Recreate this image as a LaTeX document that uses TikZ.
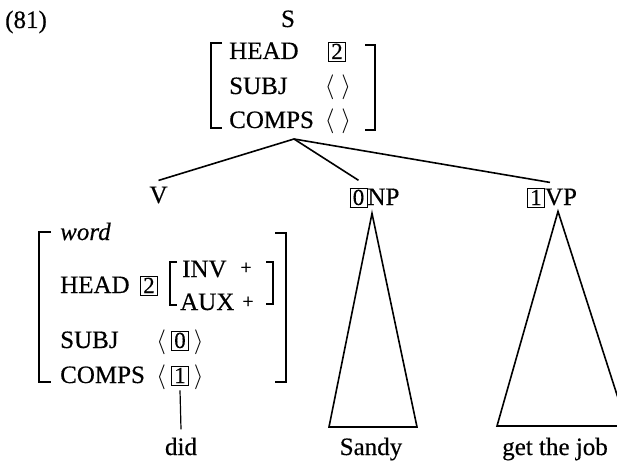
\documentclass[tikz,border=0pt]{standalone}
\usepackage{fontspec}
\setmainfont{Liberation Serif}[UprightFeatures={FakeBold=0.4},ItalicFeatures={FakeBold=0.4}]
% boxed index tag
\newcommand{\tg}[1]{{\setlength{\fboxsep}{1.4pt}\setlength{\fboxrule}{0.8pt}\fbox{\fontsize{23}{23}\selectfont\rule[-1pt]{0pt}{16pt}\makebox[13.5pt]{#1}}}}
% angle-bracketed list
\newcommand{\lst}[1]{$\langle$\hspace{5pt}#1\hspace{5pt}$\rangle$}
\begin{document}
\begin{tikzpicture}[x=1pt,y=-1pt,
  font=\fontsize{25}{29}\selectfont,
  lbl/.style={anchor=base west, inner sep=0pt},
  val/.style={anchor=base, inner sep=0pt},
  pls/.style={anchor=base, inner sep=0pt, font=\fontsize{20}{20}\selectfont},
  brk/.style={line width=1.7pt},
  edge/.style={line width=1.6pt},
  cat/.style={anchor=base, inner sep=2pt}]
\clip (0,0) rectangle (617,462);

% example number and root
\node[lbl] (num) at (5,28) {(81)};
\node[val] (S) at (288,27) {S};

% feature structure of the root
\node[lbl] (sHead) at (229,59) {HEAD};
\node[lbl] (sSubj) at (229,94) {SUBJ};
\node[lbl] (sComps) at (229,128) {COMPS};
\node[val] (sTag) at (337,59) {\tg{2}};
\node[val] (sSubjV) at (338,94) {$\langle\;\rangle$};
\node[val] (sCompsV) at (338,128) {$\langle\;\rangle$};
\draw[brk] (222,43) -- (211,43) -- (211,128) -- (222,128);
\draw[brk] (365,45) -- (375,45) -- (375,130) -- (365,130);

% daughters
\coordinate (br) at (294,139);
\node[cat] (V) at (158.5,203) {V};
\node[cat] (NP) at (374.5,205) {\tg{0}NP};
\node[cat] (VP) at (552,205) {\tg{1}VP};
\draw[edge] (br) -- ([yshift=4pt]V.north);
\draw[edge] (br) -- ([xshift=-16pt,yshift=5pt]NP.north);
\draw[edge] (br) -- ([xshift=-2pt,yshift=3pt]VP.north);

% feature structure of the verb
\node[lbl, font=\fontsize{25}{29}\selectfont\itshape] (vWord) at (60,240) {word};
\node[lbl] (vHead) at (60,293) {HEAD};
\node[val] (vTag) at (149,293) {\tg{2}};
\node[lbl] (vInv) at (182,277) {INV};
\node[lbl] (vAux) at (180,310) {AUX};
\node[pls] (vInvV) at (246,274) {+};
\node[pls] (vAuxV) at (248,308) {+};
\draw[brk] (177,262) -- (170,262) -- (170,305) -- (177,305);
\draw[brk] (266,262) -- (273,262) -- (273,304) -- (266,304);
\node[lbl] (vSubj) at (60,348) {SUBJ};
\node[lbl] (vComps) at (60,383) {COMPS};
\node[val] (vSubjV) at (180,348) {\lst{\tg{0}}};
\node[val] (vCompsV) at (180,383) {\lst{\tg{1}}};
\draw[brk] (51,232) -- (39,232) -- (39,382) -- (51,382);
\draw[brk] (275,233) -- (286,233) -- (286,382) -- (275,382);

% lexical material
\node[val] (did) at (181,455) {did};
\draw[line width=1.2pt] ([yshift=-1pt]vCompsV.south) -- ([yshift=8pt]did.north);

\coordinate (npL) at (329,427);
\coordinate (npR) at (417,427);
\coordinate (vpL) at (497,426);
\coordinate (vpR) at (627,426);
\draw[edge, line join=miter] ([xshift=-2.5pt,yshift=-3pt]NP.south) -- (npL) -- (npR) -- cycle;
\draw[edge, line join=miter] ([xshift=6pt,yshift=-1pt]VP.south) -- (vpL) -- (vpR) -- cycle;
\node[val] (sandy) at (371,455) {Sandy};
\node[val] (job) at (555,455) {get the job};
\end{tikzpicture}
\end{document}
